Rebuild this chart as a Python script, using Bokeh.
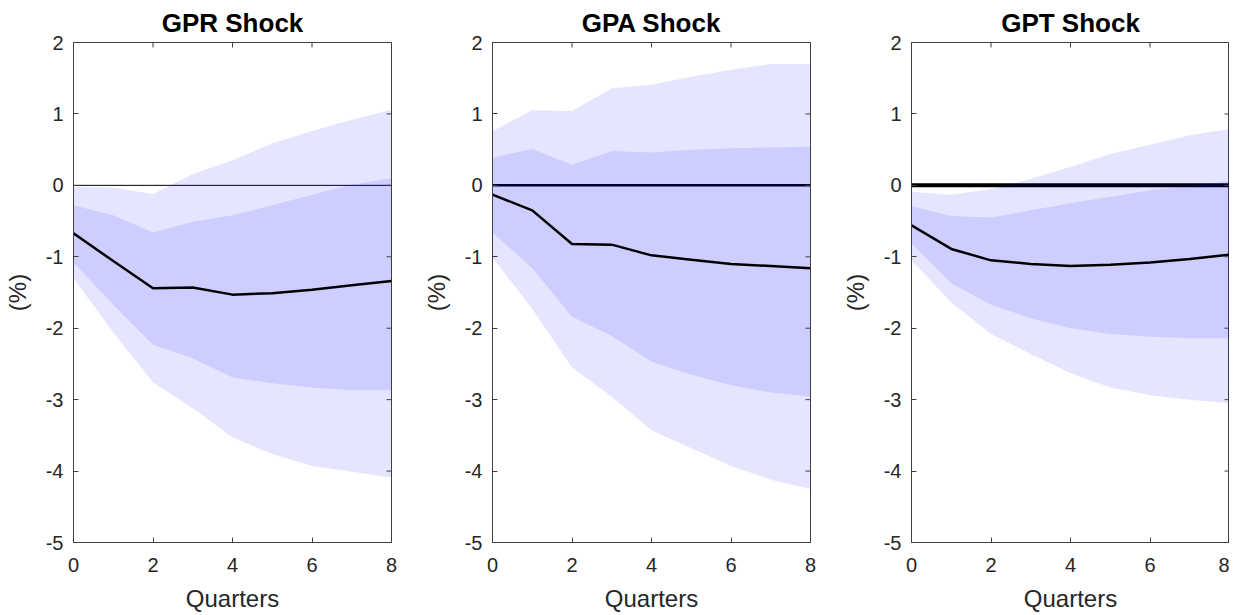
import math
from bokeh.plotting import figure
from bokeh.layouts import row
from bokeh.models import Range1d, FixedTicker, Span, PrintfTickFormatter
from bokeh.embed import file_html
from bokeh.resources import INLINE

quarters = [0, 1, 2, 3, 4, 5, 6, 7, 8]
titles = ["GPR Shock", "GPA Shock", "GPT Shock"]
x_ticks = [0, 2, 4, 6, 8]
y_ticks = [-5, -4, -3, -2, -1, 0, 1, 2]

gpr_median = [-0.67, -1.06, -1.44, -1.43, -1.53, -1.51, -1.46, -1.40, -1.34]
gpr_outer_hi = [-0.02, -0.03, -0.12, 0.16, 0.35, 0.59, 0.76, 0.92, 1.06]
gpr_inner_hi = [-0.28, -0.42, -0.66, -0.51, -0.42, -0.28, -0.13, 0.01, 0.10]
gpr_inner_lo = [-1.08, -1.67, -2.23, -2.42, -2.69, -2.77, -2.83, -2.87, -2.87]
gpr_outer_lo = [-1.30, -2.06, -2.76, -3.12, -3.53, -3.76, -3.93, -4.01, -4.09]

gpa_median = [-0.13, -0.35, -0.82, -0.83, -0.98, -1.04, -1.10, -1.13, -1.16]
gpa_outer_hi = [0.76, 1.05, 1.04, 1.36, 1.41, 1.52, 1.62, 1.70, 1.70]
gpa_inner_hi = [0.39, 0.51, 0.29, 0.48, 0.46, 0.50, 0.52, 0.53, 0.54]
gpa_inner_lo = [-0.66, -1.16, -1.84, -2.11, -2.47, -2.65, -2.80, -2.90, -2.96]
gpa_outer_lo = [-1.01, -1.73, -2.55, -2.96, -3.43, -3.68, -3.93, -4.12, -4.25]

gpt_median = [-0.56, -0.89, -1.05, -1.10, -1.13, -1.11, -1.08, -1.03, -0.97]
gpt_outer_hi = [-0.09, -0.13, -0.05, 0.09, 0.26, 0.44, 0.57, 0.70, 0.79]
gpt_inner_hi = [-0.29, -0.43, -0.45, -0.35, -0.25, -0.16, -0.07, -0.01, 0.06]
gpt_inner_lo = [-0.82, -1.37, -1.67, -1.86, -2.00, -2.08, -2.12, -2.14, -2.14]
gpt_outer_lo = [-1.05, -1.64, -2.08, -2.36, -2.63, -2.83, -2.94, -3.00, -3.05]

zero_widths = [1, 2.5, 4]

panels = [
    (gpr_median, gpr_outer_hi, gpr_inner_hi, gpr_inner_lo, gpr_outer_lo),
    (gpa_median, gpa_outer_hi, gpa_inner_hi, gpa_inner_lo, gpa_outer_lo),
    (gpt_median, gpt_outer_hi, gpt_inner_hi, gpt_inner_lo, gpt_outer_lo),
]

FONT = "Liberation Sans"
TXT = "#262626"
AX = "#404040"


def style_axis(ax):
    ax.axis_line_color = AX
    ax.axis_line_width = 1
    ax.major_tick_in = 5
    ax.major_tick_out = 0
    ax.major_tick_line_color = AX
    ax.minor_tick_line_color = None
    ax.major_label_text_font = FONT
    ax.major_label_text_color = TXT
    ax.major_label_text_font_size = "20px"
    ax.axis_label_text_font = FONT
    ax.axis_label_text_color = TXT
    ax.axis_label_text_font_style = "normal"
    ax.axis_label_text_font_size = "24px"
    ax.formatter = PrintfTickFormatter(format="%d")


figs = []
for i, (title, data) in enumerate(zip(titles, panels)):
    med, ohi, ihi, ilo, olo = data
    p = figure(
        width=419 if i < 2 else 391, frame_height=500,
        x_range=Range1d(x_ticks[0], x_ticks[-1]),
        y_range=Range1d(y_ticks[0], y_ticks[-1]),
        output_backend="svg", toolbar_location=None,
        min_border_left=65, min_border_right=28 if i < 2 else 0,
        min_border_top=35, min_border_bottom=60,
        title=title,
    )
    p.title.text_font = FONT
    p.title.text_font_size = "26px"
    p.title.text_font_style = "bold"
    p.title.text_color = "black"
    p.title.align = "center"
    p.grid.visible = False
    p.outline_line_color = AX
    p.outline_line_width = 1
    p.background_fill_color = "white"
    p.border_fill_color = "white"

    p.add_layout(Span(location=0, dimension="width", line_color="black",
                      line_width=zero_widths[i], level="underlay"))
    p.varea(x=quarters, y1=olo, y2=ohi, fill_color="blue", fill_alpha=0.1)
    p.varea(x=quarters, y1=ilo, y2=ihi, fill_color="blue", fill_alpha=0.1)
    p.line(quarters, med, line_color="black", line_width=2.5)

    # mirror ticks on the top and right edges of the box (clipped to the frame)
    p.scatter(x=x_ticks, y=[y_ticks[-1]] * len(x_ticks), marker="dash",
              angle=math.pi / 2, size=10, line_color=AX, line_width=1)
    p.scatter(x=[x_ticks[-1]] * len(y_ticks), y=y_ticks, marker="dash",
              size=10, line_color=AX, line_width=1)

    p.xaxis.ticker = FixedTicker(ticks=x_ticks)
    p.yaxis.ticker = FixedTicker(ticks=y_ticks)
    p.xaxis.axis_label = "Quarters"
    p.yaxis.axis_label = "(%)"
    style_axis(p.xaxis[0])
    style_axis(p.yaxis[0])
    p.xaxis.major_label_standoff = 15
    p.xaxis.axis_label_standoff = 10
    p.yaxis.major_label_standoff = 10
    p.yaxis.axis_label_standoff = 12
    figs.append(p)

layout = row(*figs)
open("out.html", "w").write(file_html(layout, INLINE))
